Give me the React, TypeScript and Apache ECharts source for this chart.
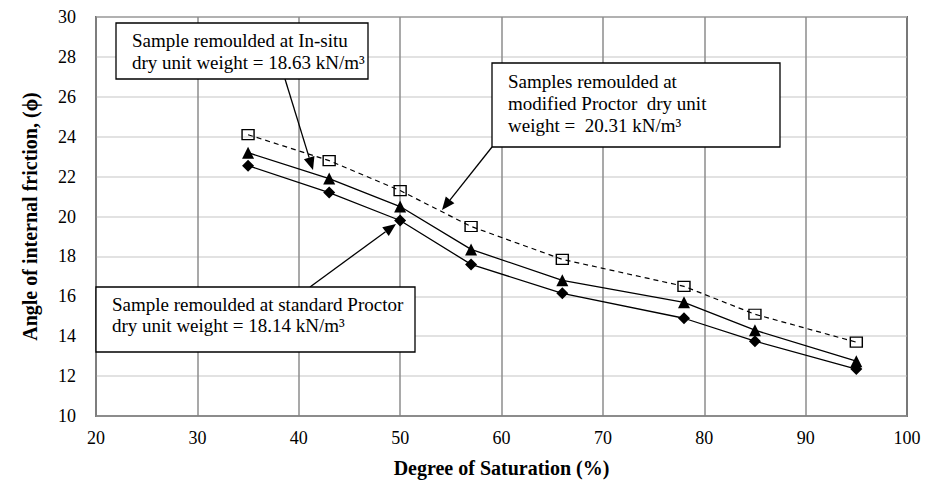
import React, { useEffect, useRef } from "react";
import * as echarts from "echarts";

const saturation = [35, 43, 50, 57, 66, 78, 85, 95];
const standardProctor = [22.55, 21.2, 19.8, 17.6, 16.15, 14.9, 13.75, 12.35];
const inSitu = [23.2, 21.9, 20.5, 18.35, 16.8, 15.7, 14.3, 12.75];
const modifiedProctor = [24.1, 22.8, 21.3, 19.5, 17.85, 16.5, 15.1, 13.7];

const xTitle = "Degree of Saturation (%)";
const yTitle = "Angle of internal friction, (\u03d5)";

const box1Lines = ["Sample remoulded at In-situ", "dry unit weight = 18.63 kN/m\u00b3"];
const box2Lines = ["Samples remoulded at", "modified Proctor  dry unit", "weight =  20.31 kN/m\u00b3"];
const box3Lines = ["Sample remoulded at standard Proctor", "dry unit weight = 18.14 kN/m\u00b3"];

const FONT = "Liberation Serif";

function pairs(xs: number[], ys: number[]) {
  return xs.map((x, i) => [x, ys[i]]);
}

function arrow(x1: number, y1: number, x2: number, y2: number) {
  const ang = Math.atan2(y2 - y1, x2 - x1);
  const len = 13;
  const half = 5.5;
  const bx = x2 - len * Math.cos(ang);
  const by = y2 - len * Math.sin(ang);
  const px = -Math.sin(ang) * half;
  const py = Math.cos(ang) * half;
  return [
    {
      type: "line",
      shape: { x1, y1, x2: bx, y2: by },
      style: { stroke: "#000", lineWidth: 1.3 },
      z: 100,
    },
    {
      type: "polygon",
      shape: { points: [[x2, y2], [bx + px, by + py], [bx - px, by - py]] },
      style: { fill: "#000" },
      z: 100,
    },
  ];
}

function box(x: number, y: number, w: number, h: number, lines: string[], tx: number, ty: number, lh: number) {
  const els: any[] = [
    {
      type: "rect",
      shape: { x, y, width: w, height: h },
      style: { fill: "#fff", stroke: "#000", lineWidth: 1.3 },
      z: 100,
    },
  ];
  lines.forEach((t, i) => {
    els.push({
      type: "text",
      x: tx,
      y: ty + i * lh,
      style: {
        text: t,
        fontFamily: FONT,
        fontSize: 19,
        fill: "#000",
        verticalAlign: "middle",
        align: "left",
      },
      z: 101,
    });
  });
  return els;
}

export default function App() {
  const ref = useRef<HTMLDivElement>(null);
  useEffect(() => {
    if (!ref.current) return;
    const chart = echarts.init(ref.current, undefined, { renderer: "svg" });
    const option: any = {
      animation: false,
      backgroundColor: "#fff",
      textStyle: { fontFamily: FONT },
      grid: {
        left: 96,
        right: 19,
        top: 17,
        bottom: 66,
        show: true,
        borderColor: "#000",
        borderWidth: 1.5,
        backgroundColor: "transparent",
      },
      xAxis: {
        type: "value",
        min: 20,
        max: 100,
        interval: 10,
        name: xTitle,
        nameLocation: "middle",
        nameGap: 42,
        nameTextStyle: { fontFamily: FONT, fontWeight: "bold", fontSize: 20, color: "#000" },
        axisLine: { show: true, lineStyle: { color: "#808080", width: 1.5 } },
        axisTick: { show: false },
        axisLabel: { fontFamily: FONT, fontSize: 18, color: "#000", margin: 13 },
        splitLine: { show: true, lineStyle: { color: "#8c8c8c", width: 1.5 } },
      },
      yAxis: {
        type: "value",
        min: 10,
        max: 30,
        interval: 2,
        name: yTitle,
        nameLocation: "middle",
        nameGap: 56,
        nameTextStyle: { fontFamily: FONT, fontWeight: "bold", fontSize: 20, color: "#000" },
        axisLine: { show: true, lineStyle: { color: "#808080", width: 1.5 } },
        axisTick: { show: false },
        axisLabel: { fontFamily: FONT, fontSize: 18, color: "#000", margin: 20 },
        splitLine: { show: true, lineStyle: { color: "#d9d9d9", width: 1.5 } },
      },
      series: [
        {
          type: "line",
          name: "Standard Proctor",
          data: pairs(saturation, standardProctor),
          symbol: "diamond",
          symbolSize: 12,
          lineStyle: { color: "#000", width: 1.3 },
          itemStyle: { color: "#000" },
          z: 5,
        },
        {
          type: "line",
          name: "In-situ",
          data: pairs(saturation, inSitu),
          symbol: "triangle",
          symbolSize: 12,
          lineStyle: { color: "#000", width: 1.3 },
          itemStyle: { color: "#000" },
          z: 5,
        },
        {
          type: "line",
          name: "Modified Proctor",
          data: pairs(saturation, modifiedProctor),
          symbol: "rect",
          symbolSize: [12, 10],
          lineStyle: { color: "#000", width: 1.2, type: [5, 4] },
          itemStyle: { color: "rgba(255,255,255,0)", borderColor: "#000", borderWidth: 1.3 },
          z: 5,
        },
      ],
      graphic: [
        ...arrow(285, 79, 313, 170),
        ...arrow(492, 147, 442, 210),
        ...arrow(310, 287, 396, 224),
        ...box(116, 23, 252, 56, box1Lines, 132, 40, 22),
        ...box(492, 63, 288, 84, box2Lines, 508, 81, 22),
        ...box(96, 287, 319, 65, box3Lines, 112, 304, 21),
      ],
    };
    chart.setOption(option);
    return () => chart.dispose();
  }, []);
  return (
    <div
      ref={ref}
      style={{ position: "fixed", left: 0, top: 0, width: 926, height: 483, background: "#fff" }}
    />
  );
}
